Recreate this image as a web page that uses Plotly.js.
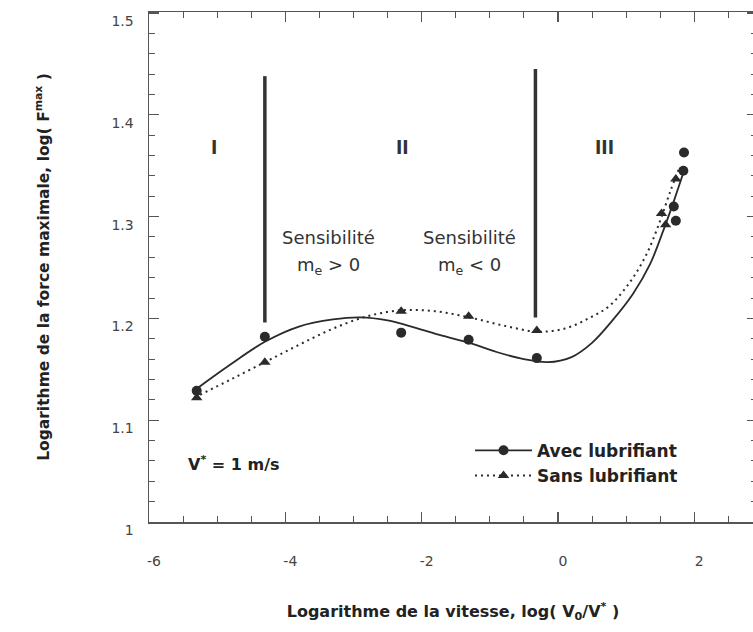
<!DOCTYPE html>
<html>
<head>
<meta charset="utf-8">
<script src="https://cdn.plot.ly/plotly-3.0.1.min.js"></script>
<style>
html, body { margin: 0; padding: 0; overflow: hidden; background: #fff; }
#chart { width: 757px; height: 632px; }
</style>
</head>
<body>
<div id="chart"></div>
<script>
// Measured points: avec lubrifiant (circles)
var avecX = [-5.30, -4.30, -2.30, -1.31, -0.31, 1.70, 1.73, 1.84, 1.85];
var avecY = [1.129, 1.182, 1.186, 1.179, 1.161, 1.310, 1.296, 1.345, 1.363];
// Measured points: sans lubrifiant (triangles)
var sansX = [-5.30, -4.30, -2.30, -1.31, -0.31, 1.52, 1.58, 1.73];
var sansY = [1.122, 1.157, 1.207, 1.202, 1.188, 1.303, 1.292, 1.337];
// Fitted curves
var avecFitX = [-5.30, -4.80, -4.30, -3.80, -3.30, -2.90, -2.50, -2.10, -1.70, -1.30, -0.90, -0.50, -0.15, 0.20, 0.50, 0.80, 1.10, 1.35, 1.55, 1.70, 1.84];
var avecFitY = [1.131, 1.155, 1.177, 1.192, 1.199, 1.201, 1.198, 1.191, 1.183, 1.176, 1.167, 1.160, 1.157, 1.162, 1.176, 1.198, 1.224, 1.253, 1.287, 1.315, 1.343];
var sansFitX = [-5.25, -4.80, -4.30, -3.80, -3.30, -2.80, -2.30, -1.80, -1.30, -0.80, -0.30, 0.10, 0.45, 0.75, 1.05, 1.30, 1.50, 1.65, 1.77];
var sansFitY = [1.125, 1.140, 1.157, 1.174, 1.190, 1.202, 1.208, 1.207, 1.201, 1.193, 1.187, 1.190, 1.200, 1.212, 1.235, 1.263, 1.296, 1.325, 1.346];
// Region dividers
var dividerX = [-4.30, -0.33];
var dividerTop = [1.438, 1.445];
var dividerBottom = [1.196, 1.201];
// Region labels
var regionLabels = ['I', 'II', 'III'];
var regionX = [-5.05, -2.28, 0.69];
var regionY = 1.368;
// Tick labels
var xTickVals = [-6, -4, -2, 0, 2];
var xTickText = ['-6', '-4', '-2', '0', '2'];
var yTickVals = [1, 1.1, 1.2, 1.3, 1.4, 1.5];
var yTickText = ['1', '1.1', '1.2', '1.3', '1.4', '1.5'];

var ink = '#2a2a2a';
var fontFam = 'DejaVu Sans, Liberation Sans, Arial, sans-serif';

var traces = [
  {x: avecFitX, y: avecFitY, mode: 'lines', line: {color: ink, width: 1.8, shape: 'spline', smoothing: 1}, showlegend: false, hoverinfo: 'skip'},
  {x: sansFitX, y: sansFitY, mode: 'lines', line: {color: ink, width: 2, dash: '2px,4px', shape: 'spline', smoothing: 1}, showlegend: false, hoverinfo: 'skip'},
  {x: avecX, y: avecY, mode: 'markers', name: 'Avec lubrifiant', showlegend: false,
   marker: {symbol: 'circle', size: 10, color: ink}},
  {x: sansX, y: sansY, mode: 'markers', name: 'Sans lubrifiant', showlegend: false,
   marker: {symbol: 'triangle-up', size: 10, color: ink}},
  {x: [null], y: [null], mode: 'lines+markers', name: 'Avec lubrifiant',
   marker: {symbol: 'circle', size: 10, color: ink}, line: {color: ink, width: 1.8}},
  {x: [null], y: [null], mode: 'lines+markers', name: 'Sans lubrifiant',
   marker: {symbol: 'triangle-up', size: 10, color: ink}, line: {color: ink, width: 2, dash: '2px,4px'}}
];

var shapes = dividerX.map(function (xv, i) {
  return {type: 'line', xref: 'x', yref: 'y', x0: xv, x1: xv, y0: dividerBottom[i], y1: dividerTop[i],
          line: {color: '#333', width: 3.5}};
});

var annotations = regionLabels.map(function (t, i) {
  return {x: regionX[i], y: regionY, xref: 'x', yref: 'y', text: t, showarrow: false,
          font: {family: 'Liberation Sans Narrow, DejaVu Sans Condensed, Arial Narrow, sans-serif', size: 19, color: '#333', weight: 'bold'}};
});
var sensFont = {family: fontFam, size: 18, color: '#333'};
annotations.push(
  {x: -3.37, y: 1.279, xref: 'x', yref: 'y', text: 'Sensibilité', showarrow: false, font: sensFont},
  {x: -3.37, y: 1.251, xref: 'x', yref: 'y', text: 'm<sub>e</sub> > 0', showarrow: false, font: sensFont},
  {x: -1.30, y: 1.279, xref: 'x', yref: 'y', text: 'Sensibilité', showarrow: false, font: sensFont},
  {x: -1.30, y: 1.251, xref: 'x', yref: 'y', text: 'm<sub>e</sub> < 0', showarrow: false, font: sensFont},
  {x: -4.75, y: 1.057, xref: 'x', yref: 'y', text: 'V<sup>*</sup> = 1 m/s', showarrow: false,
   font: {family: fontFam, size: 16, color: '#222', weight: 'bold'}}
);

var axisCommon = {
  showgrid: false, zeroline: false, showline: true, linecolor: '#555', linewidth: 1.5,
  mirror: 'ticks', ticks: 'inside', tickcolor: '#555', tickwidth: 1.2, ticklen: 10,
  ticklabeloverflow: 'allow',
  tickfont: {family: fontFam, size: 14, color: '#444'}
};

var layout = {
  width: 757, height: 632,
  margin: {l: 149, r: 0, t: 12, b: 110},
  paper_bgcolor: '#fff', plot_bgcolor: '#fff',
  showlegend: true,
  legend: {x: 0.528, y: 0.175, xanchor: 'left', yanchor: 'top', bgcolor: 'rgba(0,0,0,0)',
           font: {family: fontFam, size: 17, color: '#222', weight: 'bold'}, itemwidth: 57, tracegroupgap: 0},
  xaxis: Object.assign({}, axisCommon, {
    range: [-6, 2.921], tickmode: 'array', tickvals: xTickVals, ticktext: xTickText,
    minor: {dtick: 0.5, tick0: -6, ticks: 'inside', ticklen: 6, tickcolor: '#555', tickwidth: 1},
    ticklabelshift: 5, ticklabelstandoff: 26,
    title: {text: 'Logarithme de la vitesse, log( V<sub>0</sub>/V<sup>*</sup> )', standoff: 37,
            font: {family: fontFam, size: 16, color: '#222', weight: 'bold'}}
  }),
  yaxis: Object.assign({}, axisCommon, {
    range: [1, 1.501], tickmode: 'array', tickvals: yTickVals, ticktext: yTickText,
    minor: {dtick: 0.02, tick0: 1, ticks: 'inside', ticklen: 6, tickcolor: '#555', tickwidth: 1},
    ticklabelshift: 8, ticklabelstandoff: 11,
    title: {text: 'Logarithme de la force maximale, log( F<sup>max</sup> )', standoff: 58,
            font: {family: fontFam, size: 15.5, color: '#222', weight: 'bold'}}
  }),
  shapes: shapes,
  annotations: annotations
};

Plotly.newPlot('chart', traces, layout, {displayModeBar: false, staticPlot: true});
</script>
</body>
</html>
